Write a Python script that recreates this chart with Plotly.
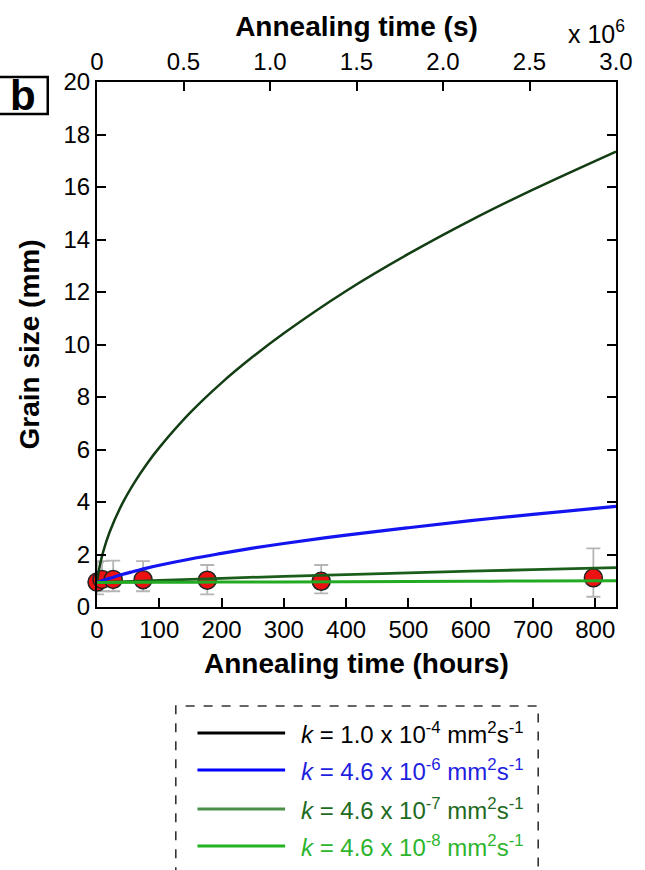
import plotly.graph_objects as go

# ---------------- data ----------------
# model curves: grain size (mm) vs annealing time (hours)
curve_hours = [0, 0.5, 1, 2, 5, 10, 20, 40, 60, 80, 100, 150, 200, 250, 300,
               400, 500, 600, 700, 833.3]
size_k1e4 = [0.93, 1.02, 1.11, 1.26, 1.63, 2.11, 2.84, 3.91, 4.74, 5.45, 6.07,
             7.41, 8.54, 9.53, 10.43, 12.04, 13.45, 14.73, 15.90, 17.35]
size_k46e6 = [0.93, 0.93, 0.94, 0.95, 0.97, 1.02, 1.09, 1.24, 1.36, 1.48, 1.59,
              1.83, 2.04, 2.24, 2.42, 2.74, 3.02, 3.29, 3.53, 3.83]
green_hours = [0, 100, 200, 300, 400, 500, 600, 700, 833.3]
size_k46e7 = [0.93, 1.015, 1.094, 1.167, 1.236, 1.301, 1.363, 1.423, 1.498]
size_k46e8 = [0.93, 0.939, 0.948, 0.957, 0.965, 0.974, 0.982, 0.990, 1.002]

# measured grain sizes
meas_hours = [0, 8, 26, 74, 177, 360, 797]
meas_size = [0.95, 1.05, 1.05, 1.04, 1.02, 0.98, 1.11]
meas_err_up = [0.75, 0.7, 0.72, 0.71, 0.58, 0.62, 1.12]
meas_err_dn = [0.47, 0.45, 0.45, 0.44, 0.54, 0.46, 0.72]

# axis ticks
y_ticks = [0, 2, 4, 6, 8, 10, 12, 14, 16, 18, 20]
hour_ticks = [0, 100, 200, 300, 400, 500, 600, 700, 800]
sec_ticks = [0, 0.5e6, 1.0e6, 1.5e6, 2.0e6, 2.5e6, 3.0e6]
sec_ticktext = ["0", "0.5", "1.0", "1.5", "2.0", "2.5", "3.0"]

legend_labels = [
    "<i>k</i> = 1.0 x 10<sup>-4</sup> mm<sup>2</sup>s<sup>-1</sup>",
    "<i>k</i> = 4.6 x 10<sup>-6</sup> mm<sup>2</sup>s<sup>-1</sup>",
    "<i>k</i> = 4.6 x 10<sup>-7</sup> mm<sup>2</sup>s<sup>-1</sup>",
    "<i>k</i> = 4.6 x 10<sup>-8</sup> mm<sup>2</sup>s<sup>-1</sup>",
]
curve_colors = ["#133d13", "#1414f0", "#1b5e1b", "#22aa22"]
legend_line_colors = ["#000000", "#0000ff", "#4b8f4b", "#22b322"]
legend_text_colors = ["#000000", "#1f1fe0", "#1e6a1e", "#2db52d"]

# ---------------- layout geometry ----------------
W, H = 645, 870
L, R, T, B = 97, 624, 82, 607
FONT = "Liberation Sans, Arial, sans-serif"


def px_x(px):
    return (px - L) / (R - L)


def px_y(py):
    return (B - py) / (B - T)


fig = go.Figure()

# measured points (drawn first, curves over them)
fig.add_trace(go.Scatter(
    x=meas_hours, y=meas_size, mode="markers",
    marker=dict(color="#ee1111", size=18, line=dict(color="#222222", width=1.5)),
    error_y=dict(type="data", symmetric=False, array=meas_err_up,
                 arrayminus=meas_err_dn, color="#b5b5b5", thickness=1.8, width=7),
    showlegend=False, cliponaxis=False,
))

curves = [
    (curve_hours, size_k1e4, 2.5),
    (curve_hours, size_k46e6, 3.2),
    (green_hours, size_k46e7, 2.8),
    (green_hours, size_k46e8, 3.0),
]
for (xs, ys, w), c in zip(curves, curve_colors):
    fig.add_trace(go.Scatter(x=xs, y=ys, mode="lines", line=dict(color=c, width=w, shape="spline"),
                             showlegend=False))

# invisible trace to anchor the top (seconds) axis
fig.add_trace(go.Scatter(x=[sec_ticks[0], sec_ticks[-1]], y=[0, 0], xaxis="x2", mode="markers",
                         marker=dict(opacity=0), showlegend=False, hoverinfo="skip"))

axis_common = dict(showline=True, linecolor="black", linewidth=2, ticks="inside",
                   ticklen=9, tickwidth=2, tickcolor="black", showgrid=False, zeroline=False,
                   tickfont=dict(family=FONT, size=24, color="black"))

fig.update_layout(
    width=W, height=H,
    margin=dict(l=L, r=W - R, t=T, b=H - B),
    paper_bgcolor="white", plot_bgcolor="white",
    font=dict(family=FONT, color="black"),
    xaxis=dict(range=[0, 833.33], tickvals=hour_ticks, mirror=False,
               title=dict(text="<b>Annealing time (hours)</b>",
                          font=dict(family=FONT, size=28), standoff=12),
               **axis_common),
    xaxis2=dict(range=[0, 3.0e6], overlaying="x", side="top", tickvals=sec_ticks,
                ticktext=sec_ticktext,
                title=dict(text="<b>Annealing time (s)</b>",
                           font=dict(family=FONT, size=28), standoff=4),
                **axis_common),
    yaxis=dict(range=[0, 20], tickvals=y_ticks, mirror="ticks",
               title=dict(text="<b>Grain size (mm)</b>",
                          font=dict(family=FONT, size=28), standoff=16),
               **axis_common),
)

shapes = []
annotations = []

# "x 10^6" multiplier
annotations.append(dict(xref="paper", yref="paper", x=px_x(604), y=px_y(32),
                        text="x 10<sup>6</sup>", showarrow=False,
                        font=dict(family=FONT, size=25, color="black"),
                        xanchor="center", yanchor="middle"))

# panel label "b"
shapes.append(dict(type="rect", xref="paper", yref="paper",
                   x0=px_x(-6), x1=px_x(47), y0=px_y(114), y1=px_y(77),
                   line=dict(color="black", width=2.5), fillcolor="white"))
annotations.append(dict(xref="paper", yref="paper", x=px_x(22), y=px_y(96),
                        text="<b>b</b>", showarrow=False,
                        font=dict(family=FONT, size=42, color="black"),
                        xanchor="center", yanchor="middle"))

# custom legend in a dashed box
shapes.append(dict(type="rect", xref="paper", yref="paper",
                   x0=px_x(177), x1=px_x(545), y0=px_y(900), y1=px_y(706),
                   line=dict(color="#333333", width=1.6, dash="dash")))
legend_rows = [733, 770, 809, 846]
for yy, lc, tc, lab in zip(legend_rows, legend_line_colors, legend_text_colors, legend_labels):
    shapes.append(dict(type="line", xref="paper", yref="paper",
                       x0=px_x(199), x1=px_x(288), y0=px_y(yy), y1=px_y(yy),
                       line=dict(color=lc, width=3)))
    annotations.append(dict(xref="paper", yref="paper", x=px_x(302), y=px_y(yy),
                            text=lab, showarrow=False, xanchor="left", yanchor="middle",
                            font=dict(family=FONT, size=24, color=tc)))

fig.update_layout(shapes=shapes, annotations=annotations)

fig.write_html("out.html", config={"displayModeBar": False},
               post_script="document.body.style.margin='0px';")
